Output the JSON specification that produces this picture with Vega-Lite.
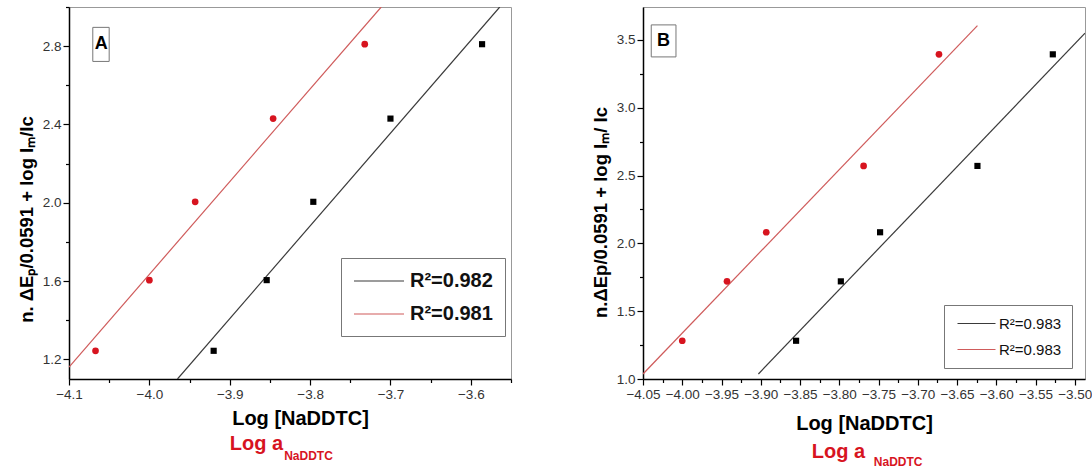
{
  "$schema": "https://vega.github.io/schema/vega-lite/v6.json",
  "padding": {"left": 16, "top": 5, "right": 0, "bottom": 0},
  "spacing": 77,
  "config": {
    "font": "Liberation Sans",
    "view": {"stroke": "#999", "strokeWidth": 1},
    "axis": {
      "grid": false,
      "domainColor": "#000",
      "domainWidth": 1.5,
      "tickColor": "#000",
      "tickWidth": 1.2,
      "labelColor": "#333",
      "labelFontSize": 13.5,
      "labelFlush": false,
      "labelOverlap": false,
      "titleColor": "#000",
      "titleFontWeight": "bold"
    }
  },
  "datasets": {
    "pointsA": [
      {"x": -4.067, "y": 1.244, "series": "S2"},
      {"x": -4.0, "y": 1.605, "series": "S2"},
      {"x": -3.943, "y": 2.005, "series": "S2"},
      {"x": -3.846, "y": 2.43, "series": "S2"},
      {"x": -3.732, "y": 2.81, "series": "S2"},
      {"x": -3.92, "y": 1.244, "series": "S1"},
      {"x": -3.854, "y": 1.605, "series": "S1"},
      {"x": -3.796, "y": 2.005, "series": "S1"},
      {"x": -3.7, "y": 2.43, "series": "S1"},
      {"x": -3.586, "y": 2.81, "series": "S1"}
    ],
    "linesA": [
      {"x": -3.965, "y": 1.1, "series": "S1"},
      {"x": -3.564, "y": 3.0, "series": "S1"},
      {"x": -4.1, "y": 1.161, "series": "S2"},
      {"x": -3.7115, "y": 3.0, "series": "S2"}
    ],
    "pointsB": [
      {"x": -4.0, "y": 1.282, "series": "S2"},
      {"x": -3.943, "y": 1.72, "series": "S2"},
      {"x": -3.893, "y": 2.082, "series": "S2"},
      {"x": -3.769, "y": 2.571, "series": "S2"},
      {"x": -3.673, "y": 3.394, "series": "S2"},
      {"x": -3.855, "y": 1.282, "series": "S1"},
      {"x": -3.798, "y": 1.72, "series": "S1"},
      {"x": -3.748, "y": 2.082, "series": "S1"},
      {"x": -3.624, "y": 2.571, "series": "S1"},
      {"x": -3.528, "y": 3.394, "series": "S1"}
    ],
    "linesB": [
      {"x": -3.903, "y": 1.037, "series": "S1"},
      {"x": -3.487, "y": 3.55, "series": "S1"},
      {"x": -4.05, "y": 1.037, "series": "S2"},
      {"x": -3.624, "y": 3.606, "series": "S2"}
    ],
    "labelA": [{"panel": "A", "main": "Log a", "sub": "NaDDTC"}],
    "labelB": [{"panel": "B", "main": "Log a", "sub": "NaDDTC"}]
  },
  "resolve": {
    "scale": {"color": "independent", "x": "independent", "y": "independent"},
    "legend": {"color": "independent"}
  },
  "hconcat": [
    {
      "width": 442,
      "height": 372,
      "resolve": {"axis": {"x": "independent", "y": "independent"}},
      "layer": [
        {
          "data": {"name": "linesA"},
          "mark": {"type": "line", "clip": true, "strokeWidth": 1.2},
          "encoding": {
            "x": {
              "field": "x", "type": "quantitative",
              "scale": {"domain": [-4.1, -3.55], "nice": false, "zero": false},
              "axis": {
                "orient": "bottom",
                "values": [-4.1, -4.0, -3.9, -3.8, -3.7, -3.6],
                "format": ".1f",
                "tickSize": 6,
                "labelPadding": 2,
                "title": "Log [NaDDTC]",
                "titleFontSize": 20,
                "titlePadding": 8,
                "titleX": 231
              }
            },
            "y": {
              "field": "y", "type": "quantitative",
              "scale": {"domain": [1.1, 3.0], "nice": false, "zero": false},
              "axis": {
                "orient": "left",
                "values": [1.2, 1.6, 2.0, 2.4, 2.8],
                "format": ".1f",
                "tickSize": 6,
                "labelPadding": 2,
                "title": "n. ΔEₚ/0.0591 + log Iₘ/Iᴄ",
                "titleFontSize": 18.5,
                "titlePadding": 6,
                "titleY": 212
              }
            },
            "color": {
              "field": "series", "type": "nominal",
              "scale": {"domain": ["S1", "S2"], "range": ["#3a3a3a", "#cf5b5b"]},
              "legend": {
                "orient": "none",
                "legendX": 272,
                "legendY": 251,
                "title": null,
                "symbolType": "M-2.5,0H2.5",
                "symbolSize": 400,
                "symbolStrokeWidth": 1.2,
                "symbolOffset": 15,
                "labelFontSize": 20,
                "labelFontWeight": "bold",
                "labelColor": "#111",
                "labelOffset": 20,
                "labelExpr": "datum.label === 'S1' ? 'R²=0.982' : 'R²=0.981'",
                "strokeColor": "#777",
                "fillColor": "white",
                "padding": 12,
                "rowPadding": 12
              }
            }
          }
        },
        {
          "data": {"name": "pointsA"},
          "mark": {"type": "point", "filled": true, "opacity": 1},
          "encoding": {
            "x": {
              "field": "x", "type": "quantitative",
              "axis": {
                "orient": "bottom",
                "values": [-4.05, -3.95, -3.85, -3.75, -3.65, -3.55],
                "labels": false, "domain": false, "tickSize": 3.5, "title": null
              }
            },
            "y": {
              "field": "y", "type": "quantitative",
              "axis": {
                "orient": "left",
                "values": [1.4, 1.8, 2.2, 2.6, 3.0],
                "labels": false, "domain": false, "tickSize": 3.5, "title": null
              }
            },
            "color": {"condition": {"test": "datum.series === 'S2'", "value": "#d7141f"}, "value": "#000"},
            "shape": {"condition": {"test": "datum.series === 'S2'", "value": "circle"}, "value": "square"},
            "size": {"condition": {"test": "datum.series === 'S2'", "value": 45}, "value": 38}
          }
        },
        {
          "data": {"name": "labelA"},
          "mark": {"type": "rect", "fill": "white", "stroke": "#777", "strokeWidth": 1},
          "encoding": {
            "x": {"datum": -4.0704, "type": "quantitative", "axis": null},
            "x2": {"datum": -4.05},
            "y": {"datum": 2.896, "type": "quantitative", "axis": null},
            "y2": {"datum": 2.722}
          }
        },
        {
          "data": {"name": "labelA"},
          "mark": {"type": "text", "fontSize": 18, "fontWeight": "bold", "color": "#000", "baseline": "middle", "align": "center"},
          "encoding": {
            "x": {"datum": -4.06, "type": "quantitative", "axis": null},
            "y": {"datum": 2.809, "type": "quantitative", "axis": null},
            "text": {"field": "panel"}
          }
        },
        {
          "data": {"name": "labelA"},
          "mark": {"type": "text", "fontSize": 20, "fontWeight": "bold", "color": "#d7141f", "baseline": "middle", "align": "left"},
          "encoding": {
            "x": {"datum": -3.8999, "type": "quantitative", "axis": null},
            "y": {"datum": 0.77, "type": "quantitative", "axis": null},
            "text": {"field": "main"}
          }
        },
        {
          "data": {"name": "labelA"},
          "mark": {"type": "text", "fontSize": 12, "fontWeight": "bold", "color": "#d7141f", "baseline": "middle", "align": "left"},
          "encoding": {
            "x": {"datum": -3.8323, "type": "quantitative", "axis": null},
            "y": {"datum": 0.709, "type": "quantitative", "axis": null},
            "text": {"field": "sub"}
          }
        }
      ]
    },
    {
      "width": 442,
      "height": 372,
      "resolve": {"axis": {"x": "independent", "y": "independent"}},
      "layer": [
        {
          "data": {"name": "linesB"},
          "mark": {"type": "line", "clip": true, "strokeWidth": 1.2},
          "encoding": {
            "x": {
              "field": "x", "type": "quantitative",
              "scale": {"domain": [-4.05, -3.487], "nice": false, "zero": false},
              "axis": {
                "orient": "bottom",
                "values": [-4.05, -4.0, -3.95, -3.9, -3.85, -3.8, -3.75, -3.7, -3.65, -3.6, -3.55, -3.5],
                "format": ".2f",
                "tickSize": 6,
                "labelPadding": 2,
                "title": "Log [NaDDTC]",
                "titleFontSize": 20,
                "titlePadding": 13
              }
            },
            "y": {
              "field": "y", "type": "quantitative",
              "scale": {"domain": [1.0, 3.743], "nice": false, "zero": false},
              "axis": {
                "orient": "left",
                "values": [1.0, 1.5, 2.0, 2.5, 3.0, 3.5],
                "format": ".1f",
                "tickSize": 6,
                "labelPadding": 2,
                "title": "n.ΔEp/0.0591 + log Iₘ/ Iᴄ",
                "titleFontSize": 18.5,
                "titlePadding": 6,
                "titleY": 205
              }
            },
            "color": {
              "field": "series", "type": "nominal",
              "scale": {"domain": ["S1", "S2"], "range": ["#3a3a3a", "#cf5b5b"]},
              "legend": {
                "orient": "none",
                "legendX": 301,
                "legendY": 298,
                "title": null,
                "symbolType": "M-2.5,0H2.5",
                "symbolSize": 231,
                "symbolStrokeWidth": 1.2,
                "symbolOffset": 14,
                "labelFontSize": 15,
                "labelColor": "#111",
                "labelOffset": 14,
                "labelExpr": "'R²=0.983'",
                "strokeColor": "#777",
                "fillColor": "white",
                "padding": 10,
                "rowPadding": 9
              }
            }
          }
        },
        {
          "data": {"name": "pointsB"},
          "mark": {"type": "point", "filled": true, "opacity": 1},
          "encoding": {
            "x": {
              "field": "x", "type": "quantitative",
              "axis": {
                "orient": "bottom",
                "values": [-4.025, -3.975, -3.925, -3.875, -3.825, -3.775, -3.725, -3.675, -3.625, -3.575, -3.525],
                "labels": false, "domain": false, "tickSize": 3.5, "title": null
              }
            },
            "y": {
              "field": "y", "type": "quantitative",
              "axis": {
                "orient": "left",
                "values": [1.25, 1.75, 2.25, 2.75, 3.25],
                "labels": false, "domain": false, "tickSize": 3.5, "title": null
              }
            },
            "color": {"condition": {"test": "datum.series === 'S2'", "value": "#d7141f"}, "value": "#000"},
            "shape": {"condition": {"test": "datum.series === 'S2'", "value": "circle"}, "value": "square"},
            "size": {"condition": {"test": "datum.series === 'S2'", "value": 45}, "value": 38}
          }
        },
        {
          "data": {"name": "labelB"},
          "mark": {"type": "rect", "fill": "white", "stroke": "#777", "strokeWidth": 1},
          "encoding": {
            "x": {"datum": -4.0395, "type": "quantitative", "axis": null},
            "x2": {"datum": -4.008},
            "y": {"datum": 3.611, "type": "quantitative", "axis": null},
            "y2": {"datum": 3.375}
          }
        },
        {
          "data": {"name": "labelB"},
          "mark": {"type": "text", "fontSize": 18, "fontWeight": "bold", "color": "#000", "baseline": "middle", "align": "center"},
          "encoding": {
            "x": {"datum": -4.024, "type": "quantitative", "axis": null},
            "y": {"datum": 3.493, "type": "quantitative", "axis": null},
            "text": {"field": "panel"}
          }
        },
        {
          "data": {"name": "labelB"},
          "mark": {"type": "text", "fontSize": 20, "fontWeight": "bold", "color": "#d7141f", "baseline": "middle", "align": "left"},
          "encoding": {
            "x": {"datum": -3.835, "type": "quantitative", "axis": null},
            "y": {"datum": 0.462, "type": "quantitative", "axis": null},
            "text": {"field": "main"}
          }
        },
        {
          "data": {"name": "labelB"},
          "mark": {"type": "text", "fontSize": 12, "fontWeight": "bold", "color": "#d7141f", "baseline": "middle", "align": "left"},
          "encoding": {
            "x": {"datum": -3.756, "type": "quantitative", "axis": null},
            "y": {"datum": 0.388, "type": "quantitative", "axis": null},
            "text": {"field": "sub"}
          }
        }
      ]
    }
  ]
}
